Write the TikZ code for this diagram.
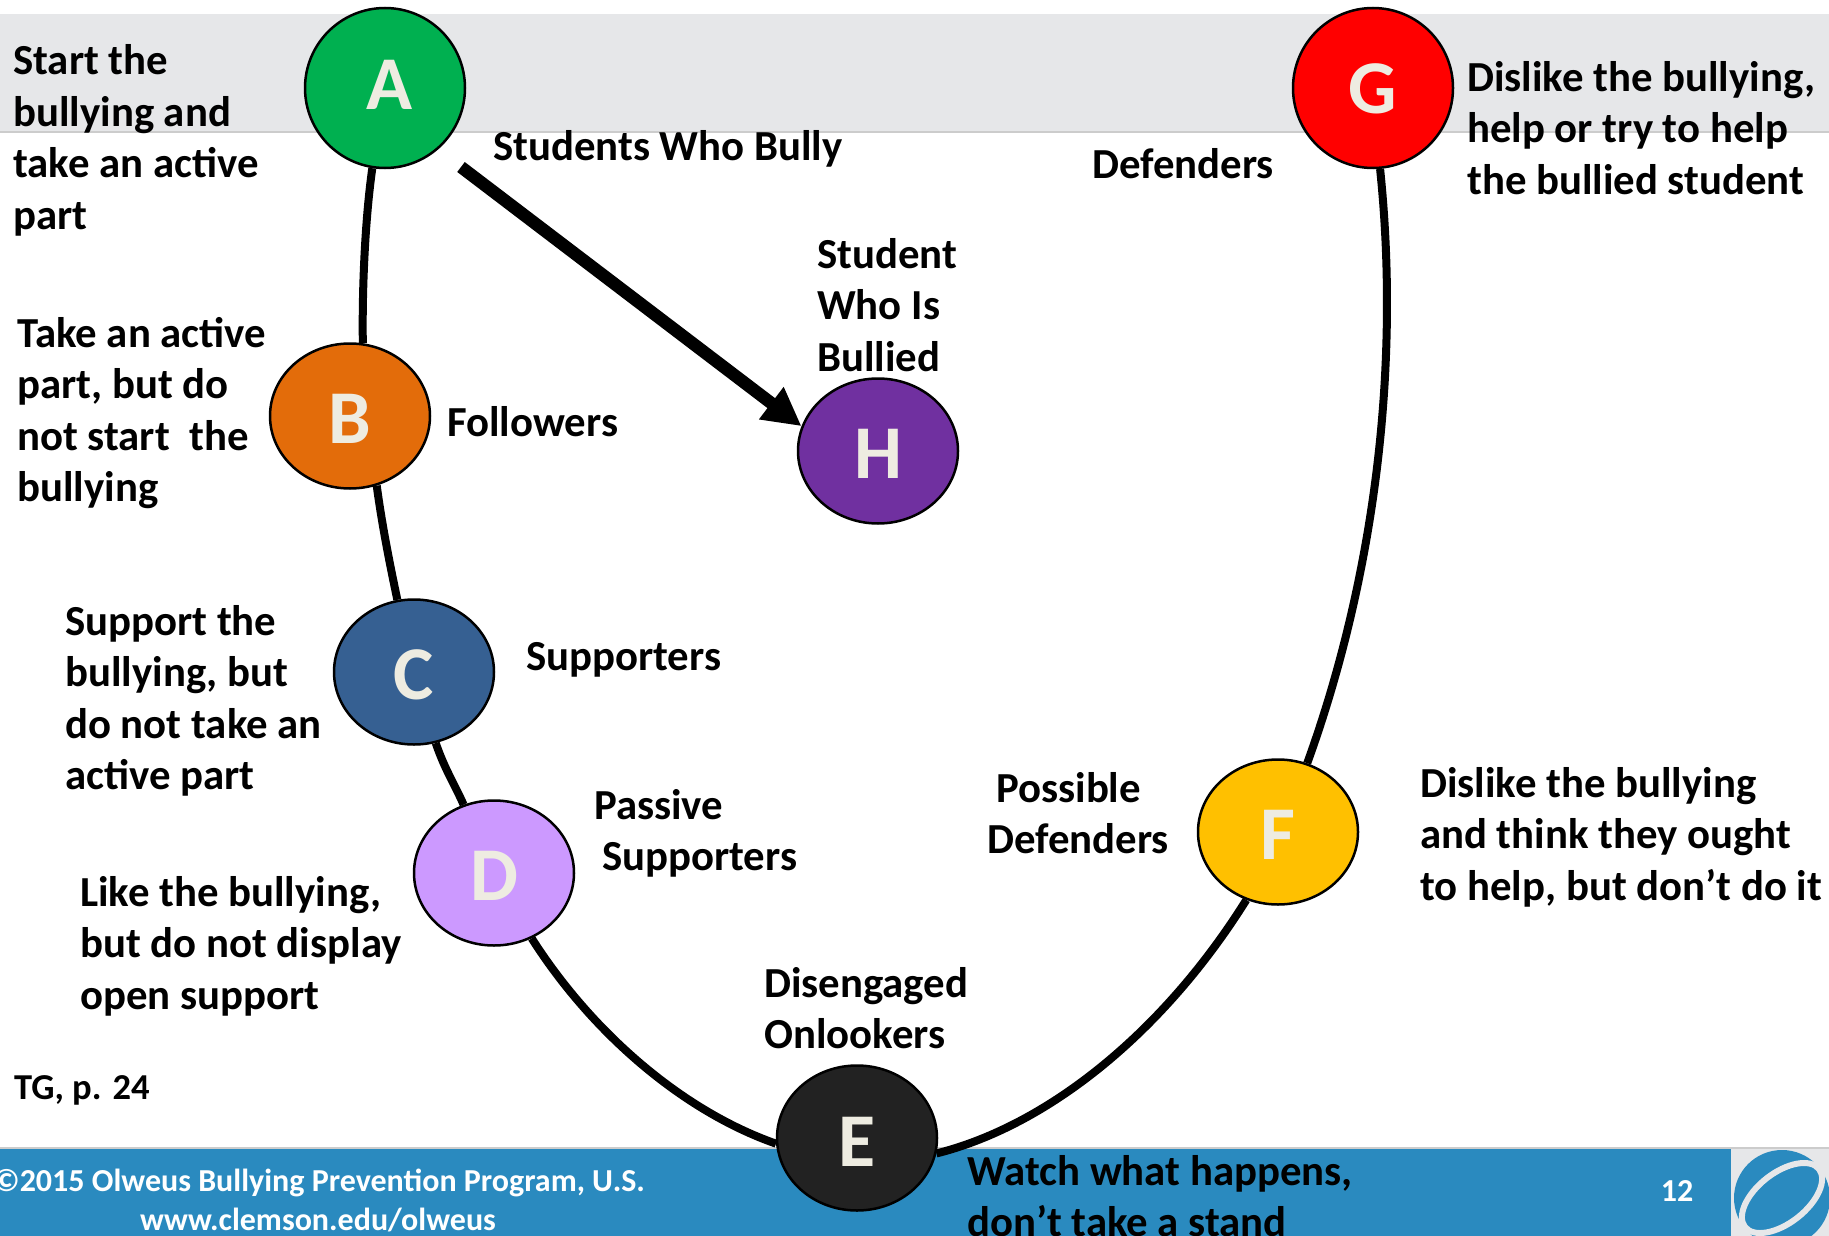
\documentclass[tikz,border=0pt]{standalone}
\usepackage{fontspec}
\setmainfont{Carlito}
\usetikzlibrary{shapes.geometric,arrows.meta,backgrounds}
\definecolor{band}{HTML}{E6E7E9}
\definecolor{bar}{HTML}{2A8ABF}
\definecolor{cream}{HTML}{EEECE1}
\tikzset{
  lett/.style={draw=black,line width=2.5pt,ellipse,inner sep=0pt,minimum width=160pt,minimum height=145pt,text=cream,text height=54pt,text depth=0pt,font=\fontsize{76}{76}\selectfont\bfseries},
  roundlett/.style={lett,minimum height=160pt},
  lbl/.style={anchor=north west,inner sep=0pt,align=left,text=black,font=\fontsize{42.8}{51.5}\selectfont\bfseries},
  curve/.style={line width=8pt,black},
}
\newcommand{\fs}{\strut}
\begin{document}
\begin{tikzpicture}[x=1pt,y=-1pt]
\useasboundingbox (0,0) rectangle (1829,1236);
\node[roundlett,text height=44pt,fill={rgb,255:red,0;green,176;blue,80}] (A) at (385,88) {\hspace*{9pt}A};
\node[roundlett,text height=51pt,fill=red] (G) at (1373,88) {G};
\node[lett,fill={rgb,255:red,227;green,108;blue,10}] (B) at (350,416) {B};
\node[lett,fill={rgb,255:red,54;green,96;blue,146}] (C) at (414,672) {C};
\node[lett,fill={rgb,255:red,204;green,153;blue,255}] (D) at (494,873) {D};
\node[lett,text height=56pt,fill={rgb,255:red,34;green,34;blue,34}] (E) at (857,1138) {E};
\node[lett,fill={rgb,255:red,255;green,192;blue,0}] (F) at (1278,832) {F};
\node[lett,fill={rgb,255:red,112;green,48;blue,160}] (H) at (878,451) {H};
\coordinate (arrowstart) at (461,167);
\begin{pgfonlayer}{background}
  \fill[band] (0,14) rectangle (1829,132);
  \draw[line width=1.5pt,black!20] (0,132) -- (1829,132);
  \fill[bar] (0,1149) rectangle (1731,1236);
  \draw[line width=1.5pt,black!20] (0,1148) -- (1829,1148);
  \fill[band] (1731,1149) rectangle (1829,1236);
  \begin{scope}
    \clip (1731,1149) rectangle (1829,1236);
    \fill[bar] (1782,1198) circle (48);
    \draw[band,line width=6pt,fill=bar,rotate around={38:(1782,1198)}] (1782,1198) ellipse (47 and 25);
  \end{scope}
  \draw[curve] (A.261) .. controls (365,220) and (362,290) .. (B.80);
  \draw[curve] (B.-69) .. controls (382,525) and (390,565) .. (C.103);
  \draw[curve] (C.-73) .. controls (445,770) and (455,785) .. (D.114);
  \draw[curve] (D.-60) .. controls (590,1030) and (680,1110) .. (E.184);
  \draw[curve] (E.-11) .. controls (1050,1125) and (1165,1030) .. (F.-115);
  \draw[curve] (F.67) .. controls (1370,590) and (1402,380) .. (G.-85);
\end{pgfonlayer}
\draw[line width=12.5pt,-{Triangle[length=38pt,width=38pt]}] (arrowstart) -- (H.162);
\node[lbl] (ta) at (13,38.5) {\fs Start the\\bullying and\\take an active\\part};
\node[lbl] (ts) at (493,124.5) {\fs Students Who Bully};
\node[lbl] (td) at (1092,142) {\fs Defenders};
\node[lbl] (tg) at (1467,55) {\fs Dislike the bullying,\\help or try to help\\the bullied student};
\node[lbl] (th) at (817,232) {\fs Student\\Who Is\\Bullied};
\node[lbl] (tb) at (17,311) {\fs Take an active\\part, but do\\not start\ \ the\\bullying};
\node[lbl] (tf) at (447,400) {\fs Followers};
\node[lbl] (tc) at (65,599) {\fs Support the\\bullying, but\\do not take an\\active part};
\node[lbl] (tsu) at (526,634) {\fs Supporters};
\node[lbl] (tp) at (594,783) {\fs Passive\\\hspace*{8pt}Supporters};
\node[lbl] (tpd) at (987,766) {\fs\hspace*{9pt}Possible\\Defenders};
\node[lbl] (tl) at (80,870) {\fs Like the bullying,\\but do not display\\open support};
\node[lbl] (tfd) at (1420,761) {\fs Dislike the bullying\\and think they ought\\to help, but don’t do it};
\node[lbl] (te) at (764,961) {\fs Disengaged\\Onlookers};
\node[lbl,font=\fontsize{36.5}{50}\selectfont\bfseries] (tt) at (14,1064) {\fs TG, p. 24};
\node[lbl] (tw) at (967,1149) {\fs Watch what happens,\\don’t take a stand};
\node[anchor=base,inner sep=0pt,align=center,text=white,font=\fontsize{32}{38.5}\selectfont\bfseries] (tc1) at (319,1191.5) {©2015 Olweus Bullying Prevention Program, U.S.};
\node[anchor=base,inner sep=0pt,text=white,font=\fontsize{32}{38.5}\selectfont\bfseries] (tc2) at (318,1230) {www.clemson.edu/olweus};
\node[anchor=center,inner sep=0pt,text=white,font=\fontsize{32}{36}\selectfont\bfseries] (pg) at (1677,1191) {12};
\end{tikzpicture}
\end{document}
